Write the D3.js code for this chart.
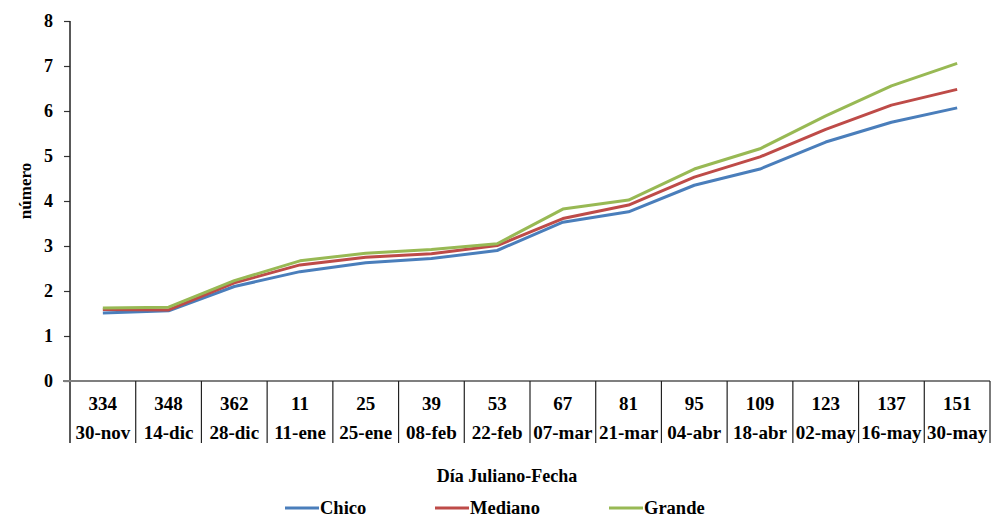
<!DOCTYPE html>
<html>
<head>
<meta charset="utf-8">
<script src="https://cdn.jsdelivr.net/npm/d3@7"></script>
<style>
  body { margin: 0; background: #fff; }
</style>
</head>
<body>
<svg id="chart" width="993" height="516"></svg>
<script>
// Julian day and date for each sampling
const julianDays = ["334", "348", "362", "11", "25", "39", "53", "67", "81", "95", "109", "123", "137", "151"];
const dates = ["30-nov", "14-dic", "28-dic", "11-ene", "25-ene", "08-feb", "22-feb", "07-mar", "21-mar", "04-abr", "18-abr", "02-may", "16-may", "30-may"];

const chico   = [1.51, 1.56, 2.10, 2.43, 2.63, 2.72, 2.90, 3.53, 3.76, 4.35, 4.71, 5.31, 5.75, 6.07];
const mediano = [1.59, 1.58, 2.18, 2.58, 2.75, 2.83, 3.01, 3.61, 3.91, 4.53, 4.98, 5.59, 6.13, 6.48];
const grande  = [1.62, 1.64, 2.23, 2.67, 2.84, 2.92, 3.05, 3.82, 4.02, 4.71, 5.16, 5.89, 6.56, 7.06];

const yTicks = [0, 1, 2, 3, 4, 5, 6, 7, 8];

const series = [
  { name: "Chico", values: chico, color: "#4A7EBB" },
  { name: "Mediano", values: mediano, color: "#BE4B48" },
  { name: "Grande", values: grande, color: "#98B954" }
];

const FONT = "'Liberation Serif', 'Times New Roman', serif";

const svg = d3.select("#chart");
const plotLeft = 70, plotRight = 990, plotTop = 21, plotBottom = 381;
const tableBottom = 443;

const x = d3.scaleBand().domain(d3.range(julianDays.length)).range([plotLeft, plotRight]).padding(0);
const y = d3.scaleLinear().domain([0, 8]).range([plotBottom, plotTop]);

// y axis with outward ticks
const yAxis = d3.axisLeft(y).tickValues(yTicks).tickSize(6).tickPadding(11).tickFormat(d3.format("d"));
const yg = svg.append("g").attr("transform", `translate(${plotLeft},0)`).call(yAxis)
  .attr("font-family", FONT).attr("font-size", 18).attr("font-weight", "bold");
yg.select(".domain").remove();
yg.selectAll(".tick line").attr("stroke", "#333").attr("stroke-width", 1.2);
yg.selectAll(".tick text").attr("fill", "#000");

// vertical axis line runs through the date table
svg.append("line").attr("x1", plotLeft).attr("x2", plotLeft).attr("y1", plotTop).attr("y2", tableBottom)
  .attr("stroke", "#222").attr("stroke-width", 1.5);

// horizontal axis line
svg.append("line").attr("x1", plotLeft - 7).attr("x2", plotRight).attr("y1", plotBottom).attr("y2", plotBottom)
  .attr("stroke", "#7f7f7f").attr("stroke-width", 2);

// table separators between categories
const seps = d3.range(1, julianDays.length + 1).map(i => i === julianDays.length ? plotRight : x(i));
svg.append("g").selectAll("line").data(seps).join("line")
  .attr("x1", d => d).attr("x2", d => d).attr("y1", plotBottom).attr("y2", tableBottom)
  .attr("stroke", "#222").attr("stroke-width", 1.2);

// category labels: Julian day row and date row
const labels = svg.append("g").attr("font-family", FONT).attr("font-weight", "bold").attr("font-size", 19);
labels.selectAll("text.jd").data(julianDays).join("text").attr("class", "jd")
  .attr("x", (d, i) => x(i) + x.bandwidth() / 2).attr("y", 410)
  .attr("text-anchor", "middle").text(d => d);
labels.selectAll("text.dt").data(dates).join("text").attr("class", "dt")
  .attr("x", (d, i) => x(i) + x.bandwidth() / 2).attr("y", 439)
  .attr("text-anchor", "middle").text(d => d);

// series lines
const line = d3.line().x((d, i) => x(i) + x.bandwidth() / 2).y(d => y(d));
svg.append("g").selectAll("path").data(series).join("path")
  .attr("d", s => line(s.values)).attr("fill", "none")
  .attr("stroke", s => s.color).attr("stroke-width", 3).attr("stroke-linejoin", "round");

// axis titles
const titles = svg.append("g").attr("font-family", FONT).attr("font-weight", "bold");
titles.append("text").attr("transform", "translate(31,191) rotate(-90)")
  .attr("font-size", 17).attr("text-anchor", "middle").text("número");
titles.append("text").attr("x", 507).attr("y", 482).attr("font-size", 18)
  .attr("text-anchor", "middle").text("Día Juliano-Fecha");

// legend
const legendX = [285, 435, 609];
const lg = svg.append("g").attr("font-family", FONT).attr("font-weight", "bold").attr("font-size", 18.5)
  .selectAll("g").data(series).join("g")
  .attr("transform", (d, i) => `translate(${legendX[i]},508)`);
lg.append("line").attr("x1", 0).attr("x2", 34).attr("y1", 0).attr("y2", 0)
  .attr("stroke", d => d.color).attr("stroke-width", 3);
lg.append("text").attr("x", 35).attr("y", 5.5).text(d => d.name);
</script>
</body>
</html>
